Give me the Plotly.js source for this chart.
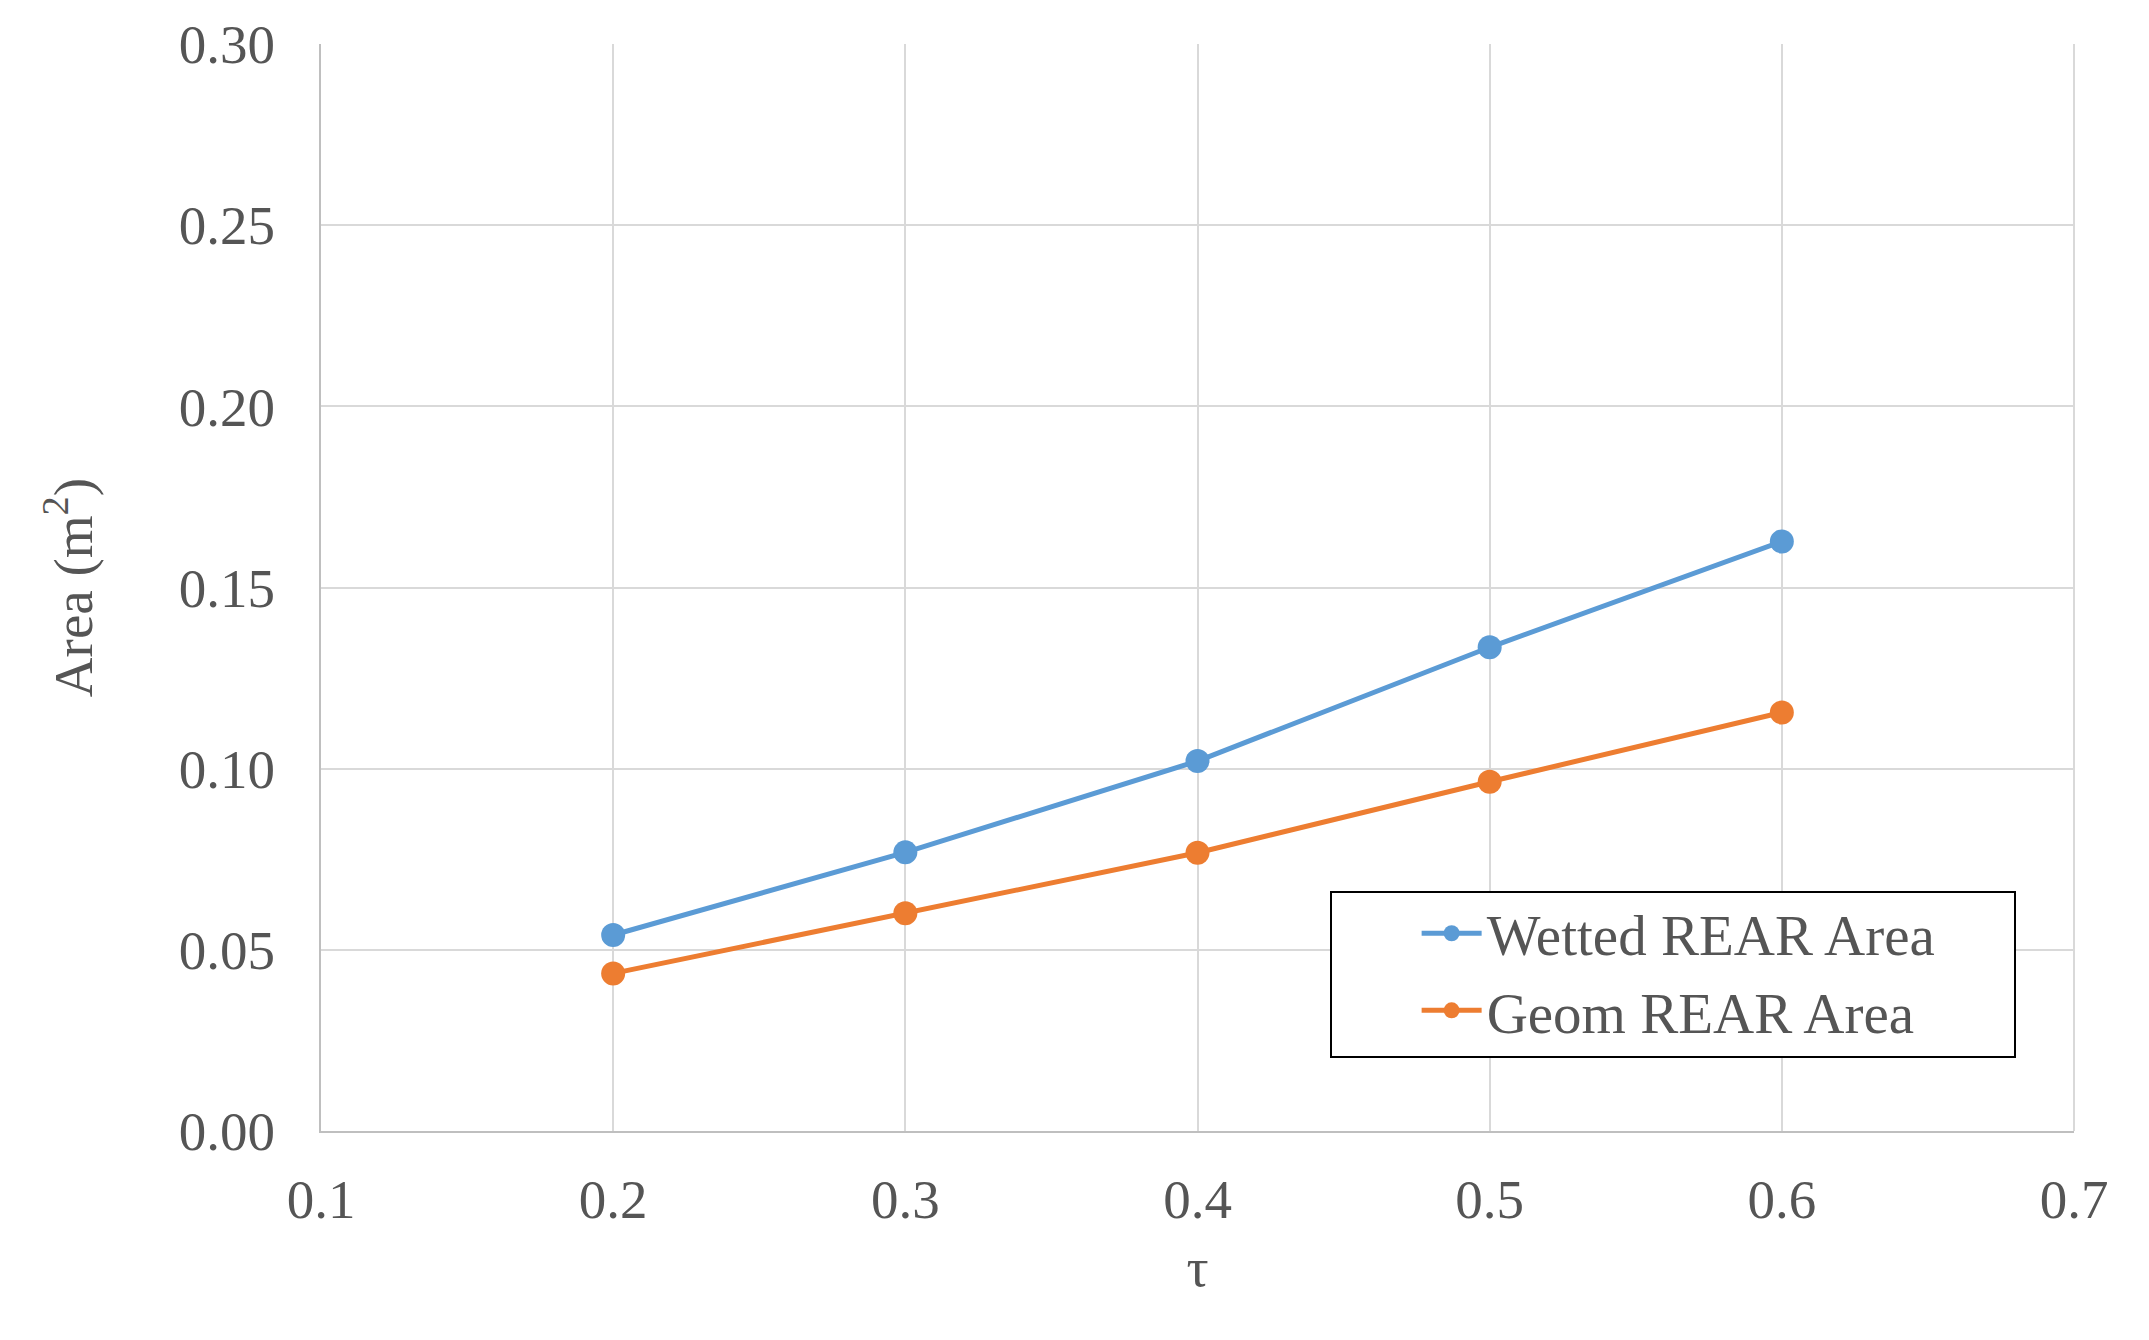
<!DOCTYPE html>
<html>
<head>
<meta charset="utf-8">
<script src="https://cdn.plot.ly/plotly-3.0.1.min.js"></script>
<style>html,body{margin:0;padding:0;background:#fff;}#chart{width:2149px;height:1340px;}</style>
</head>
<body>
<div id="chart"></div>
<script>
const tau = [0.2, 0.3, 0.4, 0.5, 0.6];
const wettedArea = [0.0541, 0.0769, 0.1021, 0.1335, 0.1627];
const geomArea = [0.0435, 0.0601, 0.0768, 0.0964, 0.1155];
const seriesNames = ["Wetted REAR Area", "Geom REAR Area"];
const xTicks = [0.1, 0.2, 0.3, 0.4, 0.5, 0.6, 0.7];
const yTicks = [0, 0.05, 0.10, 0.15, 0.20, 0.25, 0.30];

const FONT = "Liberation Serif, Times New Roman, serif";
const TXT = "#555555";

const traces = [
  {x: tau, y: wettedArea, name: seriesNames[0], mode: "lines+markers", legendgroup: "a",
   line: {color: "#5B9BD5", width: 5}, marker: {color: "#5B9BD5", size: 24}},
  {x: tau, y: geomArea, name: seriesNames[1], mode: "lines+markers", legendgroup: "b",
   line: {color: "#ED7D31", width: 5}, marker: {color: "#ED7D31", size: 24}}
];

const layout = {
  width: 2149, height: 1340,
  paper_bgcolor: "#fff", plot_bgcolor: "#fff",
  margin: {l: 321, r: 75, t: 44, b: 209},
  font: {family: FONT, size: 54, color: TXT},
  showlegend: true,
  legend: {x: 0.625, y: 0.222, xanchor: "left", yanchor: "top",
           bgcolor: "rgba(0,0,0,0)", borderwidth: 0,
           font: {family: FONT, size: 57, color: TXT},
           tracegroupgap: 27, itemwidth: 60, traceorder: "normal"},
  xaxis: {range: [0.1, 0.7], tickvals: xTicks, tickformat: ".1f",
          showgrid: true, gridcolor: "#D9D9D9", gridwidth: 2,
          showline: true, linecolor: "#BFBFBF", linewidth: 2,
          zeroline: false, ticks: "outside", ticklen: 19, tickcolor: "rgba(0,0,0,0)",
          tickfont: {family: FONT, size: 55, color: TXT},
          title: {text: "τ", standoff: 18, font: {family: FONT, size: 55, color: TXT}}},
  yaxis: {range: [0, 0.3], tickvals: yTicks, tickformat: ".2f",
          showgrid: true, gridcolor: "#D9D9D9", gridwidth: 2,
          showline: true, linecolor: "#BFBFBF", linewidth: 2,
          zeroline: false, ticks: "outside", ticklen: 33, tickcolor: "rgba(0,0,0,0)",
          tickfont: {family: FONT, size: 55, color: TXT},
          title: {text: "Area (m<sup>2</sup>)", standoff: 69, font: {family: FONT, size: 55, color: TXT}}},
  shapes: [
    {type: "line", xref: "paper", yref: "paper", x0: 1, x1: 1, y0: 0, y1: 1,
     line: {color: "#D9D9D9", width: 2}},
    {type: "rect", xref: "paper", yref: "paper",
     x0: (1331 - 321) / 1753, x1: (2015 - 321) / 1753,
     y0: (1131 - 1057) / 1087, y1: (1131 - 892) / 1087,
     line: {color: "#000", width: 2}, fillcolor: "rgba(255,255,255,1)", layer: "above"}
  ]
};

Plotly.newPlot("chart", traces, layout, {displayModeBar: false, staticPlot: true});
</script>
</body>
</html>
